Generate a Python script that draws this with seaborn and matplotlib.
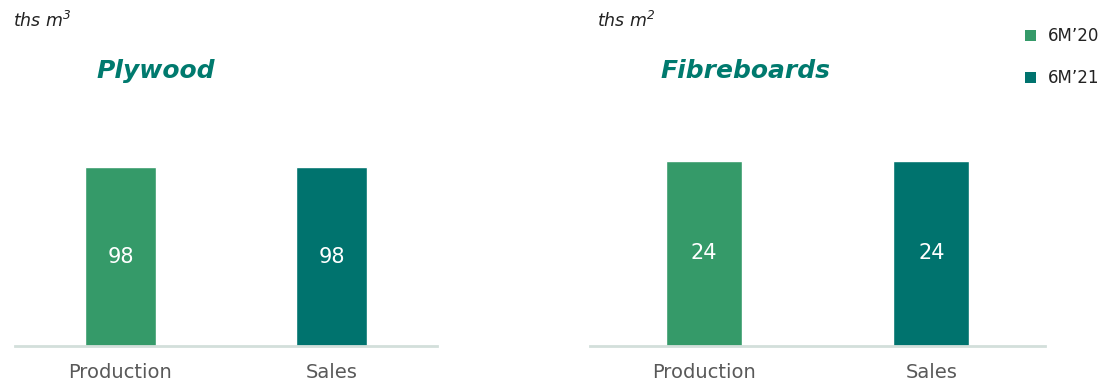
import matplotlib
matplotlib.use("Agg")
import matplotlib.pyplot as plt
from matplotlib.patches import Patch
import seaborn as sns
import pandas as pd

categories = ["Production", "Sales"]
plywood_values = [98, 98]
fibreboard_values = [24, 24]
series_labels = ["6M\u201920", "6M\u201921"]
panel_titles = ["Plywood", "Fibreboards"]
unit_labels = ["ths m$^{3}$", "ths m$^{2}$"]

LIGHT = "#359A69"
DARK = "#00736E"
TITLE = "#007A6E"
AXIS = "#D3DFDB"
TICK = "#595959"

sns.set_theme(style="white")
plt.rcParams["font.family"] = ["DejaVu Sans"]
plt.rcParams["mathtext.fontset"] = "custom"
plt.rcParams["mathtext.it"] = "DejaVu Sans:italic"
plt.rcParams["mathtext.rm"] = "DejaVu Sans:italic"

fig = plt.figure(figsize=(11.07, 3.82), dpi=100)
W, H = 1107, 382

def px_axes(x0, x1, ytop, ybot):
    return fig.add_axes([x0 / W, 1 - ybot / H, (x1 - x0) / W, (ybot - ytop) / H])

ax_left = px_axes(15, 437, 100, 346)
ax_right = px_axes(590, 1045, 100, 346)

panels = [
    (ax_left, plywood_values, 134.7, 156, 13),
    (ax_right, fibreboard_values, 31.9, 745, 597),
]

for i, (ax, vals, ytop, title_x, unit_x) in enumerate(panels):
    df = pd.DataFrame({"category": categories, "value": vals})
    sns.barplot(data=df, x="category", y="value", hue="category",
                palette=[LIGHT, DARK], legend=False, width=0.335,
                saturation=1, ax=ax)
    ax.set_xlim(-0.5, 1.5)
    ax.set_ylim(0, ytop)
    ax.set_xlabel("")
    ax.set_ylabel("")
    ax.set_yticks([])
    for side in ["top", "right", "left"]:
        ax.spines[side].set_visible(False)
    ax.spines["bottom"].set_color(AXIS)
    ax.spines["bottom"].set_linewidth(2)
    ax.tick_params(axis="x", length=0, pad=12, labelsize=14, labelcolor=TICK)
    for j, v in enumerate(vals):
        ax.text(j, v / 2, f"{v}", ha="center", va="center",
                color="white", fontsize=15)
    fig.text(title_x / W, 1 - 71 / H, panel_titles[i], ha="center", va="center",
             fontsize=18, fontweight="bold", fontstyle="italic", color=TITLE)
    fig.text(unit_x / W, 1 - 21 / H, unit_labels[i], ha="left", va="center",
             fontsize=12.5, fontstyle="italic", color="#222222")

handles = [Patch(facecolor=LIGHT, edgecolor="none"),
           Patch(facecolor=DARK, edgecolor="none")]
fig.legend(handles, series_labels, loc="upper left",
           bbox_to_anchor=(1020 / W, 1 - 22 / H), frameon=False,
           handlelength=0.65, handleheight=0.65, handletextpad=0.7,
           labelspacing=1.45, fontsize=12, labelcolor="#222222",
           borderaxespad=0, borderpad=0.3)

fig.savefig("out.png", dpi=100)
